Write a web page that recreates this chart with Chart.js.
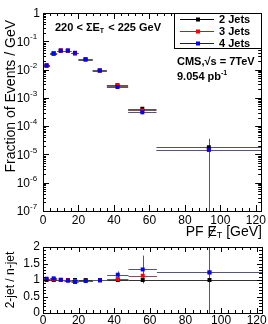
<!DOCTYPE html>
<html>
<head>
<meta charset="utf-8">
<script src="https://cdn.jsdelivr.net/npm/chart.js@4.4.1/dist/chart.umd.min.js"></script>
<style>
  body { margin: 0; background: #fff; width: 268px; height: 324px; overflow: hidden; }
  canvas { position: absolute; left: 0; }
  #top-chart { top: 0; }
  #ratio-chart { top: 232px; }
</style>
</head>
<body>
<canvas id="top-chart" width="268" height="242"></canvas>
<canvas id="ratio-chart" width="268" height="92"></canvas>
<script>
// bins of PF missing ET
const binLow  = [0, 4, 8, 12, 16, 20, 28, 36, 48, 64];
const binHigh = [4, 8, 12, 16, 20, 28, 36, 48, 64, 123];
const binMid  = [2, 6, 10, 14, 18, 24, 32, 42, 56, 93.5];
const xLabels = [0, 20, 40, 60, 80, 100, 120];

// fraction of events / GeV
const frac2 = [0.0142, 0.038, 0.047, 0.046, 0.037, 0.0225, 0.0092, 0.0028, 0.00041, 1.78e-5];
const frac3 = [0.0139, 0.0373, 0.047, 0.0465, 0.0381, 0.023, 0.0093, 0.00272, 0.00036, 1.45e-5];
const frac4 = [0.0137, 0.0362, 0.0465, 0.0469, 0.0394, 0.0232, 0.0093, 0.00241, 0.00031, 1.45e-5];
const fracErr2 = [0.0003, 0.0006, 0.0007, 0.0007, 0.0006, 0.0003, 0.0002, 0.0001, 0.00004, 1.8e-5];
const fracErr3 = [0.0003, 0.0006, 0.0007, 0.0007, 0.0006, 0.0003, 0.0002, 0.0001, 0.00004, 1.5e-5];
const fracErr4 = [0.0003, 0.0006, 0.0007, 0.0007, 0.0006, 0.0004, 0.0002, 0.00012, 0.00005, 1.5e-5];

// 2-jet / n-jet
const ratio2 = [1, 1, 1, 1, 1, 1, 1, 1, 1, 1];
const ratio3 = [1.02, 1.02, 1.0, 0.99, 0.97, 0.98, 0.99, 1.03, 1.13, 1.23];
const ratio4 = [1.04, 1.05, 1.01, 0.98, 0.94, 0.97, 0.99, 1.16, 1.32, 1.23];
const ratioErr2 = [0, 0, 0, 0, 0, 0, 0, 0, 0, 1.4];
const ratioErr3 = [0.02, 0.02, 0.02, 0.02, 0.02, 0.02, 0.03, 0.06, 0.2, 1.4];
const ratioErr4 = [0.02, 0.02, 0.02, 0.02, 0.03, 0.03, 0.04, 0.1, 0.42, 1.4];

const labels = ['2 Jets', '3 Jets', '4 Jets'];
const colors = ['#000000', '#ff0000', '#0000ff'];
const FONT = '"Liberation Sans", Arial, sans-serif';

function points(vals) {
  return binMid.map((x, i) => ({ x: x, y: vals[i] }));
}

function makeDatasets(series) {
  return series.map((vals, k) => ({
    label: labels[k],
    data: points(vals),
    showLine: false,
    pointStyle: 'rect',
    pointRadius: 2.8,
    pointHoverRadius: 2.8,
    borderWidth: 0,
    backgroundColor: colors[k],
    borderColor: colors[k],
    order: 3 - k
  }));
}

// error bars, drawn through the chart scales
function errorBars(series, errs, lineColors) {
  return {
    id: 'errorBars',
    beforeDatasetsDraw(chart) {
      const { ctx, chartArea, scales: { x, y } } = chart;
      ctx.save();
      ctx.beginPath();
      ctx.rect(chartArea.left, chartArea.top, chartArea.right - chartArea.left, chartArea.bottom - chartArea.top);
      ctx.clip();
      series.forEach((vals, k) => {
        ctx.strokeStyle = lineColors[k];
        ctx.lineWidth = 1;
        vals.forEach((v, i) => {
          const py = Math.round(y.getPixelForValue(v)) + 0.5;
          const px = Math.round(x.getPixelForValue(binMid[i])) + 0.5;
          ctx.beginPath();
          ctx.moveTo(x.getPixelForValue(binLow[i]), py);
          ctx.lineTo(x.getPixelForValue(binHigh[i]), py);
          const lo = v - errs[k][i];
          const yLo = lo > 0 ? y.getPixelForValue(lo) : chartArea.bottom + 5;
          ctx.moveTo(px, y.getPixelForValue(v + errs[k][i]));
          ctx.lineTo(px, Math.min(yLo, chartArea.bottom + 5));
          ctx.stroke();
        });
      });
      ctx.restore();
    }
  };
}

// ROOT style frame with inner ticks
function frameTicks(xMajor, xMinor, yTicks, majLen, minLen) {
  return {
    id: 'frameTicks',
    afterDraw(chart) {
      const { ctx, chartArea: a, scales: { x, y } } = chart;
      ctx.save();
      ctx.strokeStyle = '#000';
      ctx.lineWidth = 1;
      ctx.strokeRect(Math.round(a.left) + 0.5, Math.round(a.top) + 0.5,
        Math.round(a.right - a.left), Math.round(a.bottom - a.top));
      ctx.beginPath();
      for (let v = 0; v <= x.max; v += xMinor) {
        const px = Math.round(x.getPixelForValue(v)) + 0.5;
        const len = (v % xMajor === 0) ? majLen : minLen;
        ctx.moveTo(px, a.bottom); ctx.lineTo(px, a.bottom - len);
        ctx.moveTo(px, a.top); ctx.lineTo(px, a.top + len);
      }
      yTicks.forEach(t => {
        const py = Math.round(y.getPixelForValue(t.v)) + 0.5;
        const len = t.major ? majLen : minLen;
        ctx.moveTo(a.left, py); ctx.lineTo(a.left + len, py);
        ctx.moveTo(a.right, py); ctx.lineTo(a.right - len, py);
      });
      ctx.stroke();
      ctx.restore();
    }
  };
}

// log ticks for the upper pad
const logTicks = [];
for (let e = -7; e <= 0; e++) {
  logTicks.push({ v: Math.pow(10, e), major: true });
  if (e < 0) for (let m = 2; m <= 9; m++) logTicks.push({ v: m * Math.pow(10, e), major: false });
}
const linTicks = [];
for (let i = 0; i <= 20; i++) linTicks.push({ v: i / 10, major: i % 5 === 0 });

const exponents = ['-7', '-6', '-5', '-4', '-3', '-2', '-1'];

const topTexts = {
  id: 'topTexts',
  afterDraw(chart) {
    const { ctx, scales: { y }, chartArea: a } = chart;
    ctx.save();
    ctx.fillStyle = '#000';
    ctx.textBaseline = 'middle';
    // y tick labels 10^n
    exponents.forEach((ex, i) => {
      const py = y.getPixelForValue(Math.pow(10, -7 + i));
      ctx.font = '12px ' + FONT;
      ctx.textAlign = 'right';
      ctx.fillText('10', 30, py + 1);
      ctx.font = '8px ' + FONT;
      ctx.textAlign = 'left';
      ctx.fillText(ex, 30, py - 4);
    });
    ctx.font = '12px ' + FONT;
    ctx.textAlign = 'right';
    ctx.fillText('1', 40, y.getPixelForValue(1) + 1);

    // axis titles
    ctx.font = '14px ' + FONT;
    ctx.save();
    ctx.translate(11, a.top + 7);
    ctx.rotate(-Math.PI / 2);
    ctx.textAlign = 'right';
    ctx.fillText('Fraction of Events / GeV', 0, 0);
    ctx.restore();

    // x title: PF E-slash_T [GeV]
    const ty = 232;
    ctx.textAlign = 'left';
    ctx.font = '14px ' + FONT;
    const w1 = ctx.measureText('PF ').width;
    const wE = ctx.measureText('E').width;
    const w3 = ctx.measureText(' [GeV]').width;
    ctx.font = '9px ' + FONT;
    const wT = ctx.measureText('T').width;
    const x0 = 262 - (w1 + wE + wT + w3);
    ctx.font = '14px ' + FONT;
    ctx.fillText('PF ', x0, ty);
    ctx.fillText('E', x0 + w1, ty);
    ctx.beginPath();
    ctx.lineWidth = 1;
    ctx.moveTo(x0 + w1 + 1, ty + 6);
    ctx.lineTo(x0 + w1 + wE - 1, ty - 6);
    ctx.stroke();
    ctx.font = '9px ' + FONT;
    ctx.fillText('T', x0 + w1 + wE, ty + 4);
    ctx.font = '14px ' + FONT;
    ctx.fillText(' [GeV]', x0 + w1 + wE + wT, ty);

    // pad annotation
    ctx.font = 'bold 11px ' + FONT;
    let cx = 55;
    const s1 = '220 < \u03A3E';
    ctx.fillText(s1, cx, 28);
    cx += ctx.measureText(s1).width;
    ctx.font = 'bold 7px ' + FONT;
    ctx.fillText('T', cx, 31);
    cx += ctx.measureText('T').width + 1;
    ctx.font = 'bold 11px ' + FONT;
    ctx.fillText(' < 225 GeV', cx, 28);

    ctx.fillText('CMS,\u221As = 7TeV', 177, 62);
    ctx.fillText('9.054 pb', 177, 77);
    const wp = ctx.measureText('9.054 pb').width;
    ctx.font = 'bold 7px ' + FONT;
    ctx.fillText('-1', 177 + wp, 73);

    // legend
    ctx.fillStyle = '#fff';
    ctx.fillRect(174, 13, 88, 35);
    ctx.strokeStyle = '#000';
    ctx.strokeRect(174.5, 13.5, 87, 35);
    labels.forEach((lab, k) => {
      const ly = 19 + k * 12;
      ctx.strokeStyle = colors[k];
      ctx.beginPath();
      ctx.moveTo(180, ly + 0.5);
      ctx.lineTo(214, ly + 0.5);
      ctx.stroke();
      ctx.fillStyle = colors[k];
      ctx.fillRect(196, ly - 1.5, 4, 4);
      ctx.fillStyle = '#000';
      ctx.font = 'bold 11px ' + FONT;
      ctx.fillText(lab, 219, ly + 1);
    });
    ctx.restore();
  }
};

const ratioTexts = {
  id: 'ratioTexts',
  afterDraw(chart) {
    const { ctx, scales: { y }, chartArea: a } = chart;
    ctx.save();
    ctx.fillStyle = '#000';
    ctx.textBaseline = 'middle';
    ctx.textAlign = 'right';
    ctx.font = '12px ' + FONT;
    [0, 0.5, 1, 1.5, 2].forEach(v => {
      ctx.fillText(String(v), 40, y.getPixelForValue(v));
    });
    ctx.save();
    ctx.translate(11, (a.top + a.bottom) / 2);
    ctx.rotate(-Math.PI / 2);
    ctx.textAlign = 'center';
    ctx.font = '12px ' + FONT;
    ctx.fillText('2-jet / n-jet', 0, 0);
    ctx.restore();
    ctx.restore();
  }
};

function xScale(height) {
  return {
    type: 'linear', min: 0, max: 123,
    grid: { display: false, drawTicks: false },
    border: { display: false },
    afterBuildTicks: s => { s.ticks = xLabels.map(v => ({ value: v })); },
    afterFit: s => { s.height = height; },
    ticks: {
      padding: 2, color: '#000', maxRotation: 0, autoSkip: false,
      font: { family: FONT, size: 12 }
    }
  };
}

const topChart = new Chart(document.querySelector('#top-chart').getContext('2d'), {
  type: 'scatter',
  data: { datasets: makeDatasets([frac2, frac3, frac4]) },
  options: {
    responsive: false, animation: false,
    layout: { padding: { left: 0, right: 6, top: 13, bottom: 0 } },
    plugins: { legend: { display: false }, tooltip: { enabled: false } },
    scales: {
      x: xScale(31),
      y: {
        type: 'logarithmic', min: 1e-7, max: 1,
        grid: { display: false, drawTicks: false },
        border: { display: false },
        ticks: { display: false },
        afterFit: s => { s.width = 43; }
      }
    }
  },
  plugins: [errorBars([frac2, frac3, frac4], [fracErr2, fracErr3, fracErr4], ['#555', '#7a5555', '#55557a']),
            frameTicks(20, 4, logTicks, 6, 3), topTexts]
});

const ratioChart = new Chart(document.querySelector('#ratio-chart').getContext('2d'), {
  type: 'scatter',
  data: { datasets: makeDatasets([ratio2, ratio3, ratio4]) },
  options: {
    responsive: false, animation: false,
    layout: { padding: { left: 0, right: 6, top: 15, bottom: 0 } },
    plugins: { legend: { display: false }, tooltip: { enabled: false } },
    scales: {
      x: Object.assign(xScale(11), { ticks: { padding: 0, color: '#000', maxRotation: 0, autoSkip: false, font: { family: FONT, size: 12 } } }),
      y: {
        type: 'linear', min: 0, max: 2,
        grid: { display: false, drawTicks: false },
        border: { display: false },
        ticks: { display: false },
        afterFit: s => { s.width = 43; }
      }
    }
  },
  plugins: [errorBars([ratio2, ratio3, ratio4], [ratioErr2, ratioErr3, ratioErr4], ['#333', '#7a5555', '#55557a']),
            frameTicks(20, 4, linTicks, 5, 3), ratioTexts]
});
</script>
</body>
</html>
